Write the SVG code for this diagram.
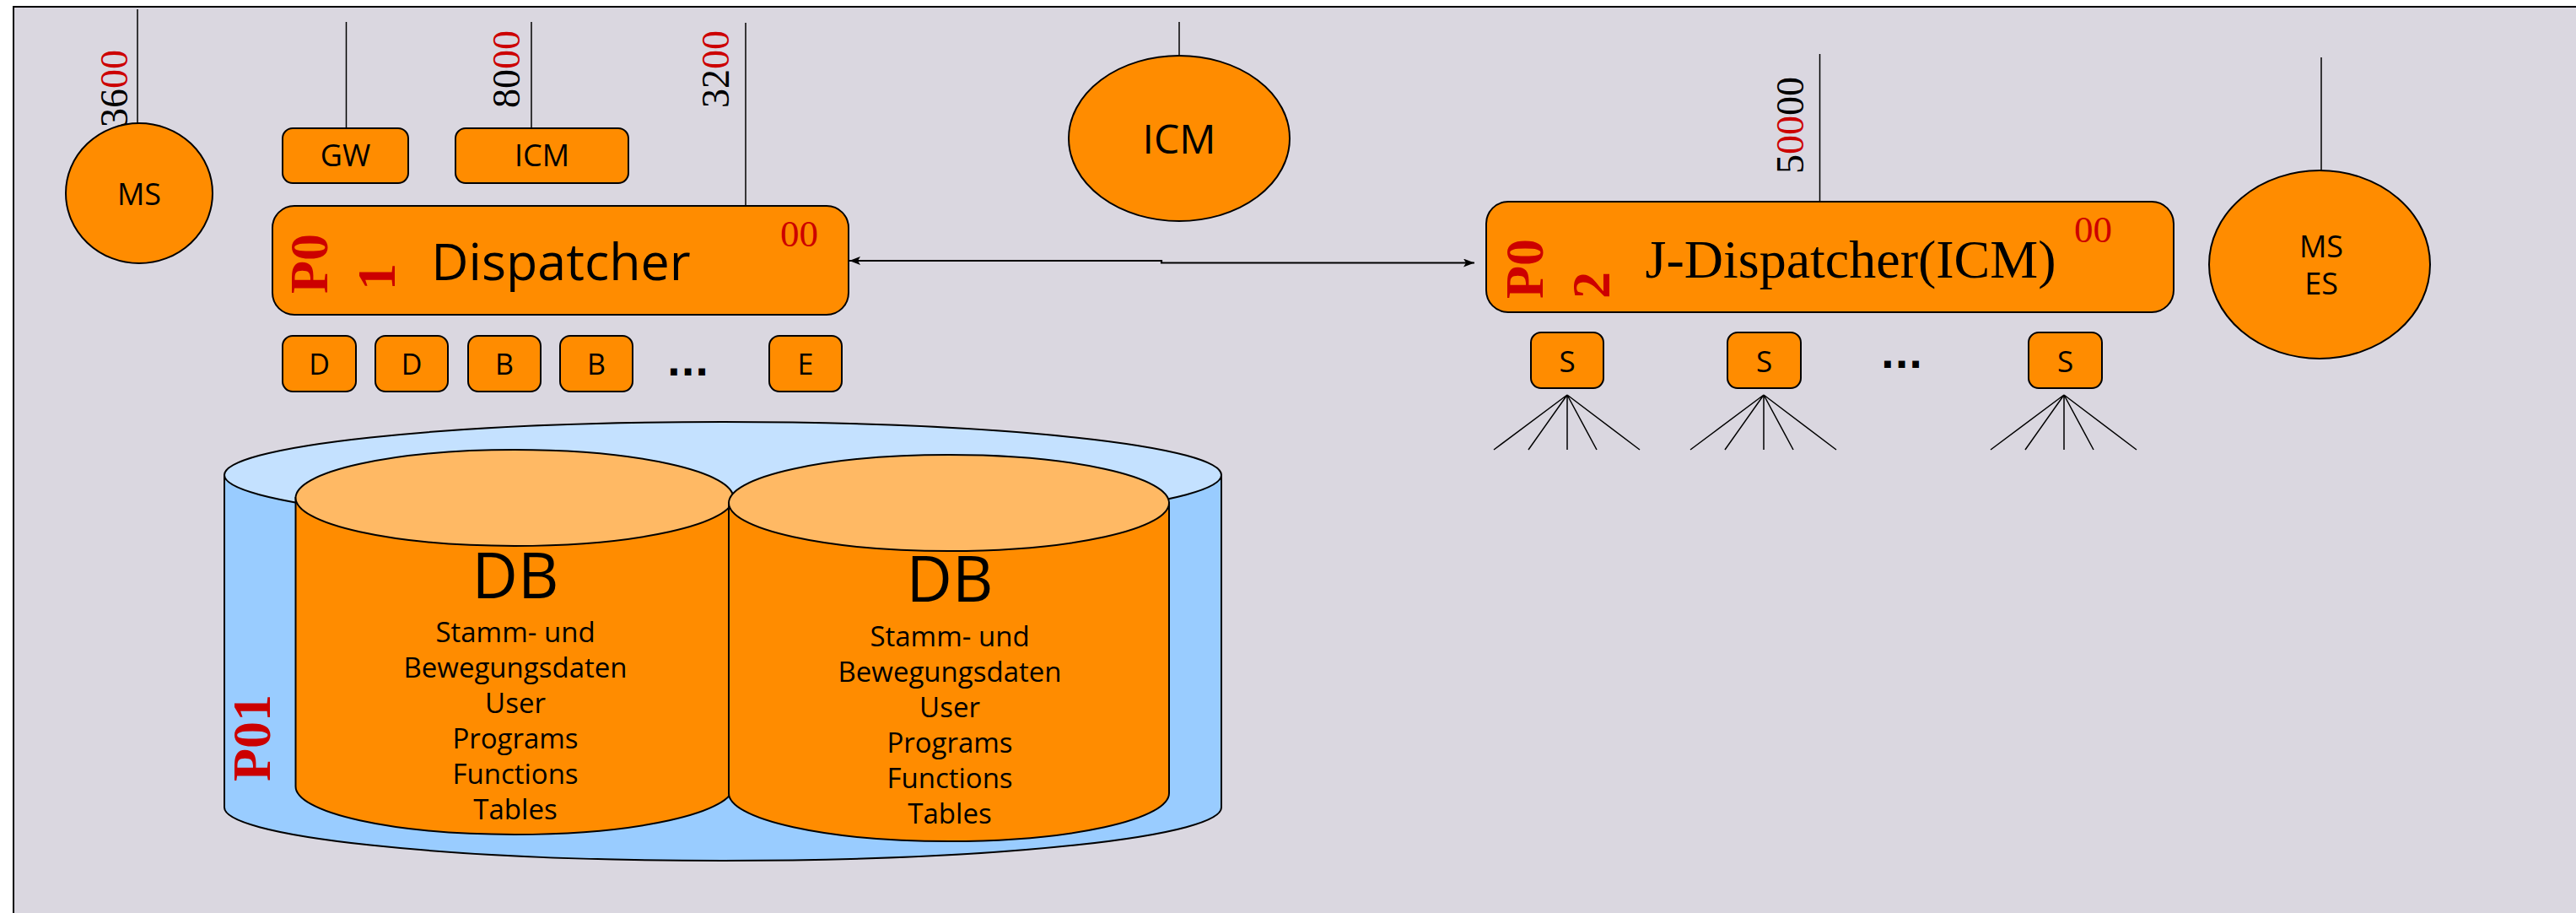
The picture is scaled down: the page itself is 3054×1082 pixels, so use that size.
<svg xmlns="http://www.w3.org/2000/svg" width="3054" height="1082" viewBox="0 0 3054 1082">
<defs>
<style>
.box{fill:#ff8c00;stroke:#000;stroke-width:2}
.sans{font-family:"Open Sans","Noto Sans","DejaVu Sans",sans-serif;fill:#000}
.serif{font-family:"Liberation Serif","Times New Roman",serif}
.red{fill:#cc0000}
.blk{fill:#000}
.pl{font-family:"Liberation Serif","Times New Roman",serif;font-weight:bold;fill:#cc0000;font-size:64px}
.num{font-family:"Liberation Serif","Times New Roman",serif;font-size:46px;fill:#000}
.ln{stroke:#000;stroke-width:1.5;fill:none}
.dbt{font-family:"Open Sans","Noto Sans","DejaVu Sans",sans-serif;font-size:33px;text-anchor:middle;fill:#000}
.dots{font-family:"DejaVu Sans",sans-serif;font-size:44px;font-weight:bold;text-anchor:middle;fill:#000}
</style>
<marker id="ah" markerWidth="14" markerHeight="10" refX="13" refY="5" orient="auto-start-reverse" markerUnits="userSpaceOnUse">
<path d="M0,0 L13,5 L0,10 L3,5 Z" fill="#000"/>
</marker>
</defs>

<rect x="16" y="8" width="3100" height="1100" fill="#dad7e0" stroke="#000" stroke-width="2"/>

<g id="connectors">
<line class="ln" x1="163" y1="11" x2="163" y2="146"/>
<line class="ln" x1="410.5" y1="26" x2="410.5" y2="155"/>
<line class="ln" x1="630" y1="26" x2="630" y2="155"/>
<line class="ln" x1="884" y1="27" x2="884" y2="247"/>
<line class="ln" x1="1398" y1="26" x2="1398" y2="66"/>
<line class="ln" x1="2157.5" y1="64" x2="2157.5" y2="239"/>
<line class="ln" x1="2752" y1="68" x2="2752" y2="202"/>
<polyline points="1007,309 1377,309 1377,311.5 1748,311.5" fill="none" stroke="#000" stroke-width="2.2" marker-start="url(#ah)" marker-end="url(#ah)"/>
<g class="ln" stroke-width="1.2">
<path d="M1858,468 L1771,533 M1858,468 L1812,533 M1858,468 L1858,533 M1858,468 L1893,533 M1858,468 L1944,533"/>
<path d="M2091,468 L2004,533 M2091,468 L2045,533 M2091,468 L2091,533 M2091,468 L2126,533 M2091,468 L2177,533"/>
<path d="M2447,468 L2360,533 M2447,468 L2401,533 M2447,468 L2447,533 M2447,468 L2482,533 M2447,468 L2533,533"/>
</g>
</g>

<g id="label-3600"><text class="num" transform="translate(151,151) rotate(-90)">36<tspan class="red">00</tspan></text></g>
<g id="label-8000"><text class="num" transform="translate(616,128) rotate(-90)">80<tspan class="red">00</tspan></text></g>
<g id="label-3200"><text class="num" transform="translate(864,128) rotate(-90)">32<tspan class="red">00</tspan></text></g>
<g id="label-50000"><text class="num" transform="translate(2138,206) rotate(-90)">5<tspan class="red">00</tspan>00</text></g>

<g id="ms">
<ellipse class="box" cx="165" cy="229" rx="87" ry="83"/>
<text class="sans" x="165" y="243" font-size="36" text-anchor="middle">MS</text>
</g>

<g id="gw">
<rect class="box" x="335" y="152" width="149" height="65" rx="12"/>
<text class="sans" x="409.5" y="197" font-size="36" text-anchor="middle">GW</text>
</g>

<g id="icm-box">
<rect class="box" x="540" y="152" width="205" height="65" rx="12"/>
<text class="sans" x="642.5" y="197" font-size="36" text-anchor="middle">ICM</text>
</g>

<g id="dispatcher">
<rect class="box" x="323" y="244" width="683" height="129" rx="26"/>
<text class="pl" transform="translate(388,348) rotate(-90)">P0</text>
<text class="pl" transform="translate(468,344) rotate(-90)">1</text>
<text class="sans" x="665" y="332" font-size="61" text-anchor="middle">Dispatcher</text>
<text class="serif red" x="925" y="292" font-size="45">00</text>
</g>

<g id="d1"><rect class="box" x="335" y="398" width="87" height="66" rx="12"/><text class="sans" x="378.5" y="444" font-size="34" text-anchor="middle">D</text></g>
<g id="d2"><rect class="box" x="445" y="398" width="86" height="66" rx="12"/><text class="sans" x="488" y="444" font-size="34" text-anchor="middle">D</text></g>
<g id="b1"><rect class="box" x="555" y="398" width="86" height="66" rx="12"/><text class="sans" x="598" y="444" font-size="34" text-anchor="middle">B</text></g>
<g id="b2"><rect class="box" x="664" y="398" width="86" height="66" rx="12"/><text class="sans" x="707" y="444" font-size="34" text-anchor="middle">B</text></g>
<g id="dots1"><text class="dots" x="815.5" y="445">...</text></g>
<g id="e1"><rect class="box" x="912" y="398" width="86" height="66" rx="12"/><text class="sans" x="955" y="444" font-size="34" text-anchor="middle">E</text></g>

<g id="icm-ellipse">
<ellipse class="box" cx="1398" cy="164" rx="131" ry="98"/>
<text class="sans" x="1398" y="182" font-size="48" text-anchor="middle">ICM</text>
</g>

<g id="j-dispatcher">
<rect class="box" x="1762" y="239" width="815" height="131" rx="26"/>
<text class="pl" transform="translate(1829,354) rotate(-90)">P0</text>
<text class="pl" transform="translate(1908,354) rotate(-90)">2</text>
<text class="serif blk" x="2194" y="329" font-size="64" text-anchor="middle">J-Dispatcher(ICM)</text>
<text class="serif red" x="2459" y="287" font-size="45">00</text>
</g>

<g id="s1"><rect class="box" x="1815" y="394" width="86" height="66" rx="12"/><text class="sans" x="1858" y="441" font-size="35" text-anchor="middle">S</text></g>
<g id="s2"><rect class="box" x="2048" y="394" width="87" height="66" rx="12"/><text class="sans" x="2091.5" y="441" font-size="35" text-anchor="middle">S</text></g>
<g id="dots2"><text class="dots" x="2254.5" y="436">...</text></g>
<g id="s3"><rect class="box" x="2405" y="394" width="87" height="66" rx="12"/><text class="sans" x="2448.5" y="441" font-size="35" text-anchor="middle">S</text></g>

<g id="ms-es">
<ellipse class="box" cx="2750" cy="313.5" rx="131" ry="111.5"/>
<text class="sans" x="2752" y="305" font-size="36" text-anchor="middle">MS</text>
<text class="sans" x="2752" y="349" font-size="36" text-anchor="middle">ES</text>
</g>

<g id="p01-cylinder">
<path d="M266,563 L266,957 A591,63 0 0 0 1448,957 L1448,563 Z" fill="#99ccff" stroke="#000" stroke-width="2"/>
<ellipse cx="857" cy="563" rx="591" ry="63" fill="#c4e1ff" stroke="#000" stroke-width="2"/>
<text class="pl" transform="translate(320,926) rotate(-90)">P01</text>
</g>

<g id="db1">
<path d="M350.5,590 L350.5,932 A259.5,57 0 0 0 869.5,932 L869.5,590 Z" fill="#ff8c00" stroke="#000" stroke-width="2"/>
<ellipse cx="610" cy="590" rx="259.5" ry="57" fill="#ffb964" stroke="#000" stroke-width="2"/>
<text class="sans" x="611" y="709" font-size="75" text-anchor="middle">DB</text>
<text class="dbt" x="611" y="761">Stamm- und</text>
<text class="dbt" x="611" y="803">Bewegungsdaten</text>
<text class="dbt" x="611" y="845">User</text>
<text class="dbt" x="611" y="887">Programs</text>
<text class="dbt" x="611" y="929">Functions</text>
<text class="dbt" x="611" y="971">Tables</text>
</g>

<g id="db2">
<path d="M864,596 L864,940 A261,57 0 0 0 1386,940 L1386,596 Z" fill="#ff8c00" stroke="#000" stroke-width="2"/>
<ellipse cx="1125" cy="596" rx="261" ry="57" fill="#ffb964" stroke="#000" stroke-width="2"/>
<text class="sans" x="1126" y="713" font-size="75" text-anchor="middle">DB</text>
<text class="dbt" x="1126" y="766">Stamm- und</text>
<text class="dbt" x="1126" y="808">Bewegungsdaten</text>
<text class="dbt" x="1126" y="850">User</text>
<text class="dbt" x="1126" y="892">Programs</text>
<text class="dbt" x="1126" y="934">Functions</text>
<text class="dbt" x="1126" y="976">Tables</text>
</g>
</svg>
